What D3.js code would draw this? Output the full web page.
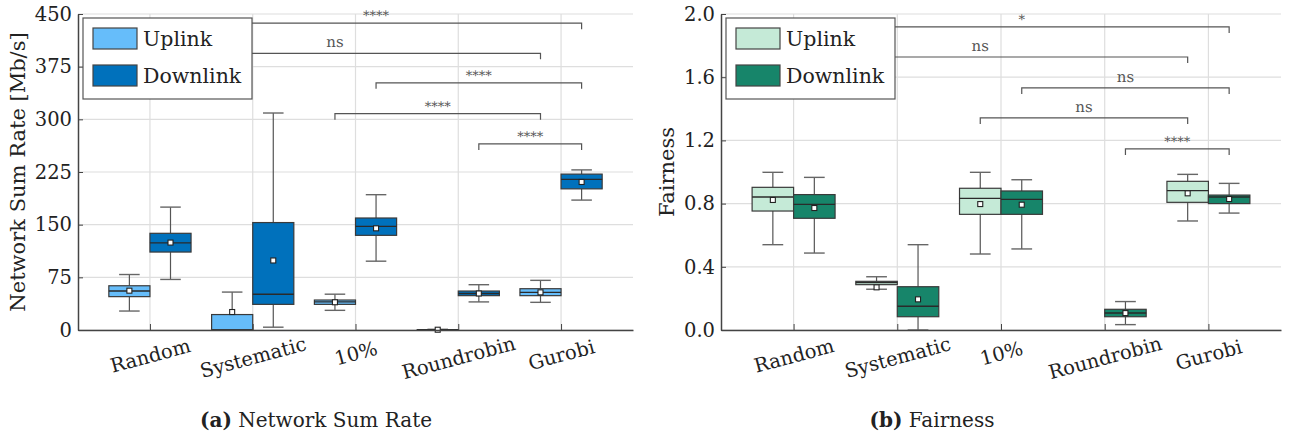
<!DOCTYPE html>
<html>
<head>
<meta charset="utf-8">
<script src="https://cdn.jsdelivr.net/npm/d3@7"></script>
<style>
  body { margin: 0; background: #fff; }
  svg { font-family: "DejaVu Serif", serif; }
</style>
</head>
<body>
<script>
// Categories and series
const categories = ['Random', 'Systematic', '10%', 'Roundrobin', 'Gurobi'];
const seriesNames = ['Uplink', 'Downlink'];

// Box stats per category: [lowWhisker, q1, median, q3, highWhisker, mean]
const rateUplink = [[27, 47.5, 55.5, 63, 79, 56], [0, 0, 0, 22, 54, 25.6], [28, 36.5, 40, 42.7, 51, 39.5], [0, 0, 0.2, 0.5, 1, 0.4], [39.4, 48.9, 53.6, 58.8, 70.7, 53.6]];
const rateDownlink = [[72, 111, 124, 137.7, 175, 124.5], [4, 36.5, 51, 153, 309, 99], [98, 134.8, 147.6, 159.5, 192.7, 144.8], [40, 48.9, 52, 55.5, 64.5, 52], [185, 201, 214.5, 222, 228, 210.8]];
const fairUplink = [[0.54, 0.753, 0.842, 0.903, 0.998, 0.823], [0.258, 0.287, 0.30, 0.308, 0.337, 0.27], [0.481, 0.732, 0.833, 0.897, 0.998, 0.797], null, [0.69, 0.808, 0.882, 0.941, 0.985, 0.865]];
const fairDownlink = [[0.487, 0.707, 0.795, 0.857, 0.966, 0.772], [0, 0.084, 0.15, 0.274, 0.54, 0.194], [0.513, 0.732, 0.827, 0.88, 0.951, 0.793], [0.034, 0.084, 0.108, 0.131, 0.18, 0.107], [0.74, 0.80, 0.842, 0.854, 0.928, 0.829]];

// Significance brackets: [categoryA, seriesA, categoryB, seriesB, height, label]
const rateSig = [[0, 1, 4, 1, 437, '****'], [0, 0, 4, 0, 394, 'ns'], [2, 1, 4, 1, 352, '****'], [2, 0, 4, 0, 308, '****'], [3, 1, 4, 1, 265, '****']];
const fairSig = [[0, 1, 4, 1, 1.918, '*'], [0, 0, 4, 0, 1.728, 'ns'], [2, 1, 4, 1, 1.532, 'ns'], [2, 0, 4, 0, 1.342, 'ns'], [3, 1, 4, 1, 1.146, '****']];

// Axis ticks
const rateTicks = [0, 75, 150, 225, 300, 375, 450];
const fairTicks = [0, 0.4, 0.8, 1.2, 1.6, 2.0];

const svg = d3.select('body').append('svg')
  .attr('width', 1290).attr('height', 434);

function drawPanel(p) {
  const g = svg.append('g').attr('transform', `translate(${p.left}, ${p.top})`);
  const w = p.width, h = p.height;

  const x = d3.scalePoint().domain(categories).range([0, w]).padding(0.7);
  const step = x.step();
  const y = d3.scaleLinear().domain(p.domain).range([h, 0]);
  const boxW = step * 0.4;
  const offsets = [-0.2 * step, 0.2 * step];

  // grid
  g.append('g').selectAll('line').data(p.ticks).join('line')
    .attr('x1', 0).attr('x2', w)
    .attr('y1', d => y(d)).attr('y2', d => y(d))
    .attr('stroke', '#dedede').attr('stroke-width', 1.2);
  g.append('g').selectAll('line').data(categories).join('line')
    .attr('x1', d => x(d)).attr('x2', d => x(d))
    .attr('y1', 0).attr('y2', h)
    .attr('stroke', '#dedede').attr('stroke-width', 1.2);

  // boxes
  p.series.forEach((data, si) => {
    const color = p.colors[si];
    data.forEach((s, ci) => {
      if (!s) return;
      const cx = x(categories[ci]) + offsets[si];
      const [lo, q1, med, q3, hi, mean] = s;
      const bg = g.append('g');
      bg.append('line').attr('x1', cx).attr('x2', cx).attr('y1', y(q3)).attr('y2', y(hi))
        .attr('stroke', '#555').attr('stroke-width', 1.2);
      bg.append('line').attr('x1', cx).attr('x2', cx).attr('y1', y(q1)).attr('y2', y(lo))
        .attr('stroke', '#555').attr('stroke-width', 1.2);
      [lo, hi].forEach(v => {
        bg.append('line').attr('x1', cx - boxW / 4).attr('x2', cx + boxW / 4)
          .attr('y1', y(v)).attr('y2', y(v))
          .attr('stroke', '#666').attr('stroke-width', 1.4);
      });
      bg.append('rect').attr('x', cx - boxW / 2).attr('width', boxW)
        .attr('y', y(q3)).attr('height', Math.max(y(q1) - y(q3), 0.5))
        .attr('fill', color).attr('stroke', '#3a3a3a').attr('stroke-width', 1.2);
      bg.append('line').attr('x1', cx - boxW / 2).attr('x2', cx + boxW / 2)
        .attr('y1', y(med)).attr('y2', y(med))
        .attr('stroke', '#2a2a2a').attr('stroke-width', 1.4);
      bg.append('rect').attr('x', cx - 2.5).attr('y', y(mean) - 2.5)
        .attr('width', 5).attr('height', 5)
        .attr('fill', '#fff').attr('stroke', '#222').attr('stroke-width', 1.1);
    });
  });

  // axes
  const yAxis = g.append('g').call(d3.axisLeft(y).tickValues(p.ticks)
    .tickFormat(p.format).tickSizeInner(-5).tickSizeOuter(0).tickPadding(6));
  yAxis.select('.domain').attr('stroke', '#444').attr('stroke-width', 1.5);
  yAxis.selectAll('.tick line').attr('stroke', '#444');
  yAxis.selectAll('text').attr('font-size', 19.5).attr('fill', '#222')
    .attr('font-family', '"DejaVu Serif", serif');

  const xAxis = g.append('g').attr('transform', `translate(0, ${h})`)
    .call(d3.axisBottom(x).tickSizeInner(-6).tickSizeOuter(0));
  xAxis.select('.domain').attr('stroke', '#444').attr('stroke-width', 1.5);
  xAxis.selectAll('.tick line').attr('stroke', '#444');
  xAxis.selectAll('text')
    .attr('font-size', 19.5).attr('fill', '#222')
    .attr('font-family', '"DejaVu Serif", serif')
    .attr('text-anchor', 'middle').attr('dy', null)
    .attr('dominant-baseline', 'central')
    .each(function () {
      const len = this.getComputedTextLength();
      const yc = 21 + len * 0.06;
      d3.select(this).attr('y', yc).attr('transform', `rotate(-15, 0, ${yc})`);
    });

  // significance brackets
  p.sig.forEach(([ca, sa, cb, sb, v, label]) => {
    const xa = x(categories[ca]) + offsets[sa];
    const xb = x(categories[cb]) + offsets[sb];
    const yy = y(v);
    g.append('path')
      .attr('d', `M${xa},${yy + 6}V${yy}H${xb}V${yy + 6}`)
      .attr('fill', 'none').attr('stroke', '#555').attr('stroke-width', 1.2);
    const ns = label === 'ns';
    g.append('text').attr('x', (xa + xb) / 2).attr('y', ns ? yy - 6 : yy - 3)
      .attr('text-anchor', 'middle')
      .attr('font-size', ns ? 15 : 13).attr('fill', '#555')
      .style('text-rendering', 'geometricPrecision')
      .text(label);
  });

  // legend
  const lg = g.append('g').attr('transform', 'translate(5, 4)');
  lg.append('rect').attr('width', 169).attr('height', 81)
    .attr('fill', '#fff').attr('stroke', '#555').attr('stroke-width', 1.2);
  seriesNames.forEach((name, i) => {
    lg.append('rect').attr('x', 10).attr('y', 10 + i * 37).attr('width', 44).attr('height', 21)
      .attr('fill', p.colors[i]).attr('stroke', '#444').attr('stroke-width', 1.2);
    lg.append('text').attr('x', 60).attr('y', 28 + i * 37)
      .attr('font-size', 20.5).attr('fill', '#222').text(name);
  });

  // y label
  g.append('text')
    .attr('transform', `translate(${p.ylabelX}, ${h / 2}) rotate(-90)`)
    .attr('text-anchor', 'middle').attr('dominant-baseline', 'central')
    .attr('font-size', 21).attr('fill', '#222').text(p.ylabel);

  // caption
  const cap = svg.append('text').attr('x', p.captionX).attr('y', 427)
    .attr('text-anchor', 'middle').attr('font-size', 20).attr('fill', '#222');
  cap.append('tspan').attr('font-weight', 'bold').text(p.captionTag);
  cap.append('tspan').text(' ' + p.caption);
}

drawPanel({
  left: 78, top: 14, width: 555, height: 316,
  domain: [0, 450], ticks: rateTicks, format: d3.format('d'),
  series: [rateUplink, rateDownlink], colors: ['#66bdfa', '#0071bc'],
  sig: rateSig, ylabel: 'Network Sum Rate [Mb/s]', ylabelX: -60,
  captionX: 316, captionTag: '(a)', caption: 'Network Sum Rate'
});

drawPanel({
  left: 721, top: 14, width: 560, height: 316,
  domain: [0, 2.0], ticks: fairTicks, format: d3.format('.1f'),
  series: [fairUplink, fairDownlink], colors: ['#c5ead7', '#17856a'],
  sig: fairSig, ylabel: 'Fairness', ylabelX: -54,
  captionX: 932, captionTag: '(b)', caption: 'Fairness'
});
</script>
</body>
</html>
